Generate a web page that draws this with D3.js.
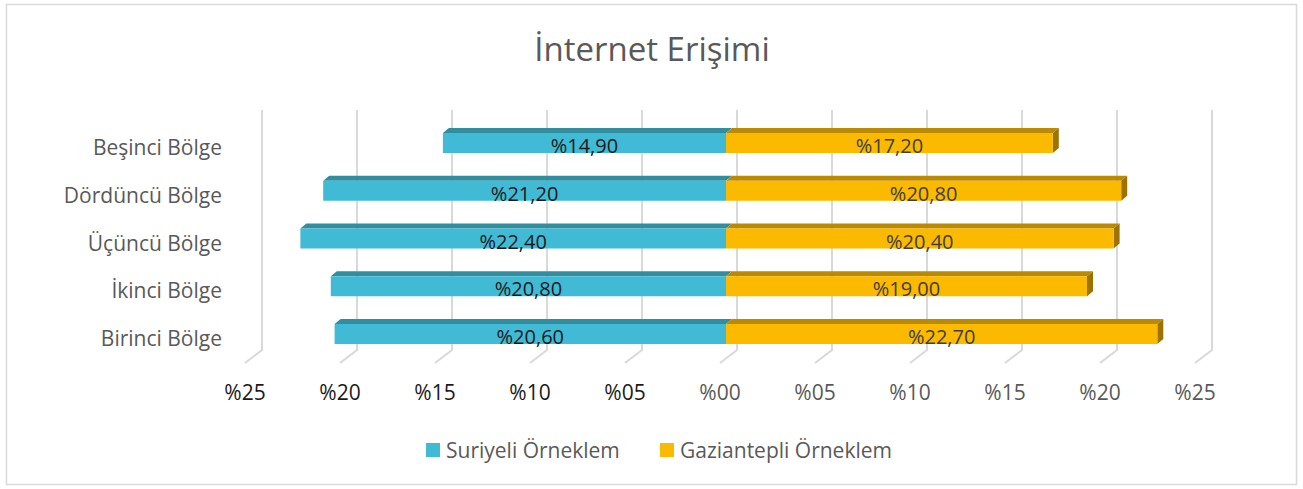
<!DOCTYPE html>
<html lang="tr">
<head>
<meta charset="utf-8">
<script src="https://d3js.org/d3.v7.min.js"></script>
<style>
  body { margin: 0; background: #fff; }
  text { font-family: "Open Sans", "DejaVu Sans", sans-serif; }
</style>
</head>
<body>
<script>
// data
var categories = ["Beşinci Bölge", "Dördüncü Bölge", "Üçüncü Bölge", "İkinci Bölge", "Birinci Bölge"];
var suriyeli = [14.90, 21.20, 22.40, 20.80, 20.60];
var gaziantepli = [17.20, 20.80, 20.40, 19.00, 22.70];
var seriesNames = ["Suriyeli Örneklem", "Gaziantepli Örneklem"];
var tickValues = [-25, -20, -15, -10, -5, 0, 5, 10, 15, 20, 25];

var W = 1303, H = 489;
var colors = {
  suriyeli: { front: "#41BAD6", top: "#318E9F" },
  gazi: { front: "#FBB900", top: "#BB8A00", side: "#9C7300" }
};

var svg = d3.select("body").append("svg").attr("width", W).attr("height", H);

// outer border
svg.append("rect").attr("x", 6.5).attr("y", 4.5).attr("width", 1290).attr("height", 480)
  .attr("fill", "#fff").attr("stroke", "#d9d9d9").attr("stroke-width", 1.5);

// title
svg.append("text").attr("x", 652).attr("y", 61).attr("text-anchor", "middle")
  .attr("font-size", 33).attr("fill", "#595959").text("İnternet Erişimi");

// scales (front plane)
var x = d3.scaleLinear().domain([-25, 25]).range([245, 1195]);
var y = d3.scalePoint().domain(categories).range([143, 334]);

// 3D offsets
var wallDx = 17, wallDy = 13;   // back wall of gridlines
var barOff = 6;                 // bars sit a bit behind the front plane
var depth = 6, depthY = 5;      // bar depth
var barH = 20;
var gridTop = 110, gridBottom = 350;

// gridlines: vertical on back wall + diagonal to front floor
var grid = svg.append("g").attr("stroke", "#d9d9d9").attr("stroke-width", 2).attr("fill", "none");
tickValues.forEach(function (v) {
  grid.append("path")
    .attr("d", "M" + (x(v) + wallDx) + "," + gridTop + "V" + gridBottom + "L" + x(v) + "," + (gridBottom + wallDy));
});

// tick labels
svg.append("g").selectAll("text").data(tickValues).enter().append("text")
  .attr("x", function (d) { return x(d); })
  .attr("y", 400)
  .attr("text-anchor", "middle")
  .attr("font-size", 21)
  .attr("fill", function (d) { return d < 0 ? "#1a1a1a" : "#595959"; })
  .text(function (d) { return "%" + d3.format("02d")(Math.abs(d)); });

// category labels
svg.append("g").selectAll("text").data(categories).enter().append("text")
  .attr("x", 222)
  .attr("y", function (d) { return y(d) + 12; })
  .attr("text-anchor", "end")
  .attr("font-size", 21)
  .attr("fill", "#595959")
  .text(function (d) { return d; });

// bars
var rows = categories.map(function (c, i) { return { cat: c, s: suriyeli[i], g: gaziantepli[i] }; });
var bars = svg.append("g");
var fmt = function (v) { return "%" + v.toFixed(2).replace(".", ","); };

rows.forEach(function (r) {
  var y0 = y(r.cat) - barH / 2, y1 = y0 + barH;
  var xl = x(-r.s) + barOff, x0 = x(0) + barOff, xr = x(r.g) + barOff;

  // suriyeli top face
  bars.append("path").attr("fill", colors.suriyeli.top)
    .attr("d", "M" + xl + "," + y0 + "L" + (xl + depth) + "," + (y0 - depthY) + "L" + (x0 + depth) + "," + (y0 - depthY) + "L" + x0 + "," + y0 + "Z");
  bars.append("rect").attr("fill", colors.suriyeli.front)
    .attr("x", xl).attr("y", y0).attr("width", x0 - xl).attr("height", barH);

  // gaziantepli top + side face
  bars.append("path").attr("fill", colors.gazi.top)
    .attr("d", "M" + x0 + "," + y0 + "L" + (x0 + depth) + "," + (y0 - depthY) + "L" + (xr + depth) + "," + (y0 - depthY) + "L" + xr + "," + y0 + "Z");
  bars.append("path").attr("fill", colors.gazi.side)
    .attr("d", "M" + xr + "," + y0 + "L" + (xr + depth) + "," + (y0 - depthY) + "L" + (xr + depth) + "," + (y1 - depthY) + "L" + xr + "," + y1 + "Z");
  bars.append("rect").attr("fill", colors.gazi.front)
    .attr("x", x0).attr("y", y0).attr("width", xr - x0).attr("height", barH);

  // value labels
  bars.append("text").attr("x", (xl + x0) / 2).attr("y", y0 + 20)
    .attr("text-anchor", "middle").attr("font-size", 20).attr("fill", "#1a1a1a").text(fmt(r.s));
  bars.append("text").attr("x", (x0 + xr) / 2).attr("y", y0 + 20)
    .attr("text-anchor", "middle").attr("font-size", 20).attr("fill", "#404040").text(fmt(r.g));
});

// legend
var legend = svg.append("g");
var legendItems = [
  { name: seriesNames[0], color: colors.suriyeli.front, x: 426 },
  { name: seriesNames[1], color: colors.gazi.front, x: 660 }
];
legendItems.forEach(function (d) {
  legend.append("rect").attr("x", d.x).attr("y", 443).attr("width", 14).attr("height", 14).attr("fill", d.color);
  legend.append("text").attr("x", d.x + 20).attr("y", 458).attr("font-size", 21).attr("fill", "#595959").text(d.name);
});
</script>
</body>
</html>
